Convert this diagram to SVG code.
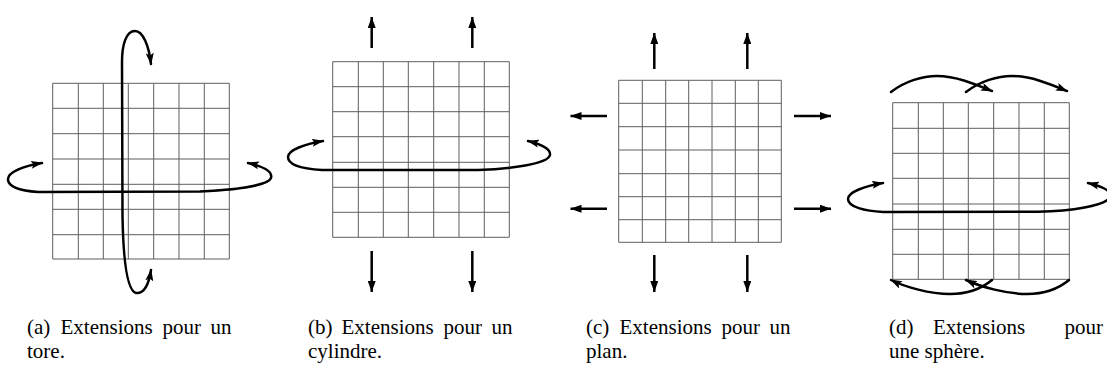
<svg xmlns="http://www.w3.org/2000/svg" width="1107" height="371" viewBox="0 0 1107 371">
<defs>
<style>
.grid{fill:none;stroke:#5e5e5e;stroke-width:1}
.thick{fill:none;stroke:#000;stroke-width:2.5;stroke-linecap:round;stroke-linejoin:round}
.arr{fill:none;stroke:#000;stroke-width:2.5}
.cap{font-family:"Liberation Serif","Times New Roman",serif;font-size:21px;fill:#000}
</style>
<marker id="ah" viewBox="0 0 12 8" refX="11" refY="4" markerWidth="12" markerHeight="8" markerUnits="userSpaceOnUse" orient="auto-start-reverse">
<path d="M0,0 L12,4 L0,8 L2.5,4 Z" fill="#000"/>
</marker>
<marker id="sh" viewBox="0 0 11 8" refX="11" refY="4" markerWidth="11" markerHeight="8" markerUnits="userSpaceOnUse" orient="auto">
<path d="M0,0 L11,4 L0,8 Z" fill="#000"/>
</marker>
</defs>
<rect width="1107" height="371" fill="#fff"/>

<g id="panel-a">
<path class="grid" d="M52.7,83.3V259M78.3,83.3V259M103.3,83.3V259M128.3,83.3V259M153.7,83.3V259M179,83.3V259M204.3,83.3V259M229.3,83.3V259M52.7,83.3H229.3M52.7,108.3H229.3M52.7,133.7H229.3M52.7,159H229.3M52.7,184.3H229.3M52.7,209.3H229.3M52.7,234.7H229.3M52.7,259H229.3"/>
</g>
<g id="panel-b">
<path class="grid" d="M332.7,61.7V237.3M358.3,61.7V237.3M383.3,61.7V237.3M408.3,61.7V237.3M433.7,61.7V237.3M459,61.7V237.3M484.3,61.7V237.3M509.3,61.7V237.3M332.7,61.7H509.3M332.7,86.7H509.3M332.7,111.7H509.3M332.7,136.7H509.3M332.7,162.3H509.3M332.7,187.3H509.3M332.7,212.3H509.3M332.7,237.3H509.3"/>
</g>
<g id="panel-c">
<path class="grid" d="M618.7,80.3V242.3M642.3,80.3V242.3M665.7,80.3V242.3M688.7,80.3V242.3M712,80.3V242.3M735.3,80.3V242.3M758.3,80.3V242.3M781.3,80.3V242.3M618.7,80.3H781.3M618.7,103.3H781.3M618.7,126.7H781.3M618.7,150H781.3M618.7,173.7H781.3M618.7,196.7H781.3M618.7,219.7H781.3M618.7,242.3H781.3"/>
</g>
<g id="panel-d">
<path class="grid" d="M892.7,102.7V279.3M918.3,102.7V279.3M943.3,102.7V279.3M968.3,102.7V279.3M993.7,102.7V279.3M1019,102.7V279.3M1044.3,102.7V279.3M1069.3,102.7V279.3M892.7,102.7H1069.3M892.7,128.3H1069.3M892.7,153.3H1069.3M892.7,178.3H1069.3M892.7,204H1069.3M892.7,229.3H1069.3M892.7,254.3H1069.3M892.7,279.3H1069.3"/>
</g>

<g id="connectors">
<!-- a -->
<path class="thick" marker-start="url(#ah)" marker-end="url(#ah)" d="M42,163 C24,166 7,172 8,180 C9,188 24,191 38,192 L200,191.5 C232,190 268,186 271,178 C273,171 262,166 248,163"/>
<path class="thick" marker-start="url(#ah)" marker-end="url(#ah)" d="M151,64 C149,46 143,31 135,31 C126,31 122,45 122,62 L122.5,216 C123,245 125,290 136,293 C145,294 149,283 151,270"/>
<!-- b -->
<path class="thick" marker-start="url(#ah)" marker-end="url(#ah)" d="M323,141 C305,144 288,150 288,157 C288,166 305,169 322,170 L478,170 C510,169 548,164 550,155 C551,148 540,144 528,141"/>
<path class="arr" marker-end="url(#sh)" d="M371.7,48V17"/>
<path class="arr" marker-end="url(#sh)" d="M472.3,48V17"/>
<path class="arr" marker-end="url(#sh)" d="M371.7,251V292"/>
<path class="arr" marker-end="url(#sh)" d="M472.3,251V292"/>
<!-- c -->
<path class="arr" marker-end="url(#sh)" d="M654.3,69V33"/>
<path class="arr" marker-end="url(#sh)" d="M747.3,69V33"/>
<path class="arr" marker-end="url(#sh)" d="M654.3,255V292"/>
<path class="arr" marker-end="url(#sh)" d="M747.3,255V292"/>
<path class="arr" marker-end="url(#sh)" d="M607,116H570.5"/>
<path class="arr" marker-end="url(#sh)" d="M607,208.7H570.5"/>
<path class="arr" marker-end="url(#sh)" d="M794,116H831"/>
<path class="arr" marker-end="url(#sh)" d="M794,208.7H831"/>
<!-- d -->
<path class="thick" marker-start="url(#ah)" marker-end="url(#ah)" d="M883,183 C865,186 848,192 848,199 C848,207 865,211 883,212 L1038,211.7 C1070,211 1106,206 1110,197 C1112,190 1100,186 1088,183"/>
<path class="thick" marker-end="url(#ah)" d="M891,92 C905,81 923,76 937,76 C956,76 975,84 992,91"/>
<path class="thick" marker-end="url(#ah)" d="M966,92 C980,81 998,76 1012,76 C1031,76 1050,84 1067,91"/>
<path class="thick" marker-end="url(#ah)" d="M992,280 C980,290 965,294 950,294 C930,294 905,287 891,280"/>
<path class="thick" marker-end="url(#ah)" d="M1069,280 C1057,290 1042,294 1027,294 C1007,294 981,287 966,280"/>
</g>

<g id="captions">
<text class="cap" y="334"><tspan x="27">(a)</tspan><tspan x="60.5">Extensions</tspan><tspan x="162.5">pour</tspan><tspan x="210.5">un</tspan></text>
<text class="cap" x="27" y="357.5">tore.</text>
<text class="cap" y="334"><tspan x="308">(b)</tspan><tspan x="341.5">Extensions</tspan><tspan x="443.5">pour</tspan><tspan x="491.5">un</tspan></text>
<text class="cap" x="308" y="357.5">cylindre.</text>
<text class="cap" y="334"><tspan x="586">(c)</tspan><tspan x="619.5">Extensions</tspan><tspan x="721.5">pour</tspan><tspan x="769.5">un</tspan></text>
<text class="cap" x="586" y="357.5">plan.</text>
<text class="cap" y="334"><tspan x="889">(d)</tspan><tspan x="933">Extensions</tspan><tspan x="1064.5">pour</tspan></text>
<text class="cap" x="889" y="357.5">une sphère.</text>
</g>
</svg>
